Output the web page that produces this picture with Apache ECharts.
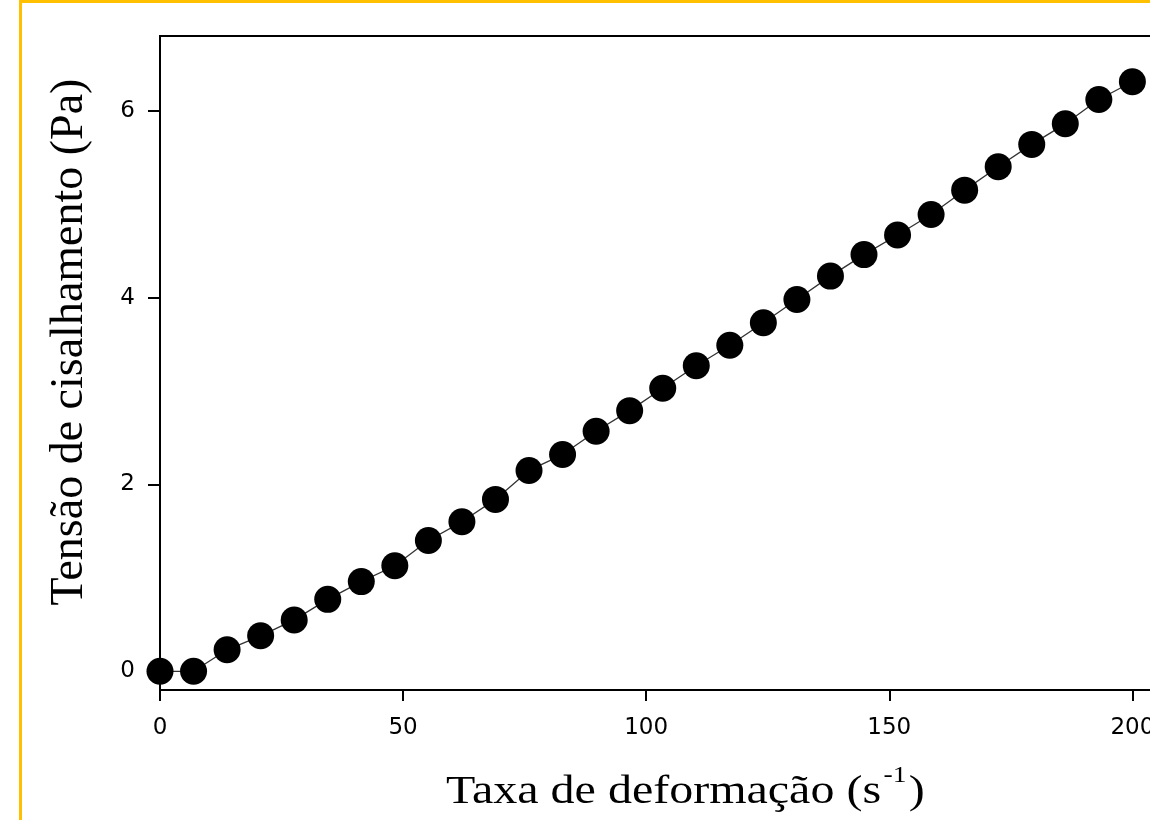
<!DOCTYPE html>
<html>
<head>
<meta charset="utf-8">
<script src="https://cdn.jsdelivr.net/npm/echarts@6/dist/echarts.min.js"></script>
<style>
  html, body { margin: 0; padding: 0; background: #fff; overflow: hidden; width: 1150px; height: 820px; }
  #frame { position: absolute; left: 19px; top: 0; width: 1300px; height: 900px; border-top: 3.5px solid #FFC000; border-left: 3.5px solid #FFC000; box-sizing: border-box; pointer-events: none; z-index: 2; }
  #chart { position: absolute; left: 0; top: 0; width: 1250px; height: 820px; }
</style>
</head>
<body>
<div id="chart"></div>
<div id="frame"></div>
<script>
// Shear rate (s^-1)
const shearRate = [0, 6.9, 13.8, 20.7, 27.6, 34.5, 41.4, 48.3, 55.2, 62.1,
                   69.0, 75.9, 82.8, 89.7, 96.6, 103.4, 110.3, 117.2, 124.1, 131.0,
                   137.9, 144.8, 151.7, 158.6, 165.5, 172.4, 179.3, 186.2, 193.1, 200.0];
// Shear stress (Pa)
const shearStress = [0.00, 0.00, 0.23, 0.38, 0.55, 0.77, 0.96, 1.13, 1.40, 1.60,
                     1.84, 2.15, 2.32, 2.57, 2.79, 3.03, 3.27, 3.49, 3.73, 3.98,
                     4.23, 4.46, 4.67, 4.89, 5.15, 5.40, 5.64, 5.86, 6.12, 6.31];
const xTicks = [0, 50, 100, 150, 200];
const yTicks = [0, 2, 4, 6];
const xTitle = 'Taxa de deformação';
const yTitle = 'Tensão de cisalhamento (Pa)';

const chart = echarts.init(document.getElementById('chart'), null, { renderer: 'canvas' });
const points = shearRate.map((x, i) => [x, shearStress[i]]);
const tickFont = 'DejaVu Sans, Arial, sans-serif';
const serif = 'Liberation Serif, Times New Roman, serif';

chart.setOption({
  animation: false,
  backgroundColor: '#ffffff',
  grid: { left: 160, top: 36, width: 1021, bottom: 130, show: true, borderColor: '#000', borderWidth: 2, backgroundColor: 'transparent' },
  xAxis: {
    type: 'value', min: 0, max: 210,
    axisLine: { show: true, onZero: false, lineStyle: { color: '#000', width: 2 } },
    axisTick: { show: true, inside: false, length: 11, customValues: xTicks, lineStyle: { color: '#000', width: 2 } },
    axisLabel: { customValues: xTicks, margin: 27, color: '#000', fontFamily: tickFont, fontSize: 23 },
    splitLine: { show: false }
  },
  yAxis: {
    type: 'value', min: -0.2, max: 6.8,
    axisLine: { show: true, onZero: false, lineStyle: { color: '#000', width: 2 } },
    axisTick: { show: true, inside: false, length: 12, customValues: yTicks, lineStyle: { color: '#000', width: 2 } },
    axisLabel: { customValues: yTicks, margin: 25, color: '#000', fontFamily: tickFont, fontSize: 23 },
    splitLine: { show: false }
  },
  graphic: [
    {
      type: 'text', x: 446, y: 764, scaleX: 1.2,
      style: {
        text: '{a|' + xTitle + ' (s}{b|-1}{a|)}',
        verticalAlign: 'top', align: 'left',
        rich: {
          a: { fontFamily: serif, fontSize: 40, fill: '#000', lineHeight: 48, verticalAlign: 'bottom' },
          b: { fontFamily: serif, fontSize: 23, fill: '#000', lineHeight: 48, verticalAlign: 'top', padding: [0, 2, 22, 2] }
        }
      }
    },
    {
      type: 'text', x: 70, y: 342, rotation: Math.PI / 2,
      style: {
        text: yTitle, fontFamily: serif, fontSize: 46, fill: '#000',
        align: 'center', verticalAlign: 'middle'
      }
    }
  ],
  series: [{
    type: 'line',
    data: points,
    symbol: 'circle',
    symbolSize: 27,
    itemStyle: { color: '#000' },
    lineStyle: { color: '#333', width: 1.3 },
    clip: false
  }]
});
</script>
</body>
</html>
